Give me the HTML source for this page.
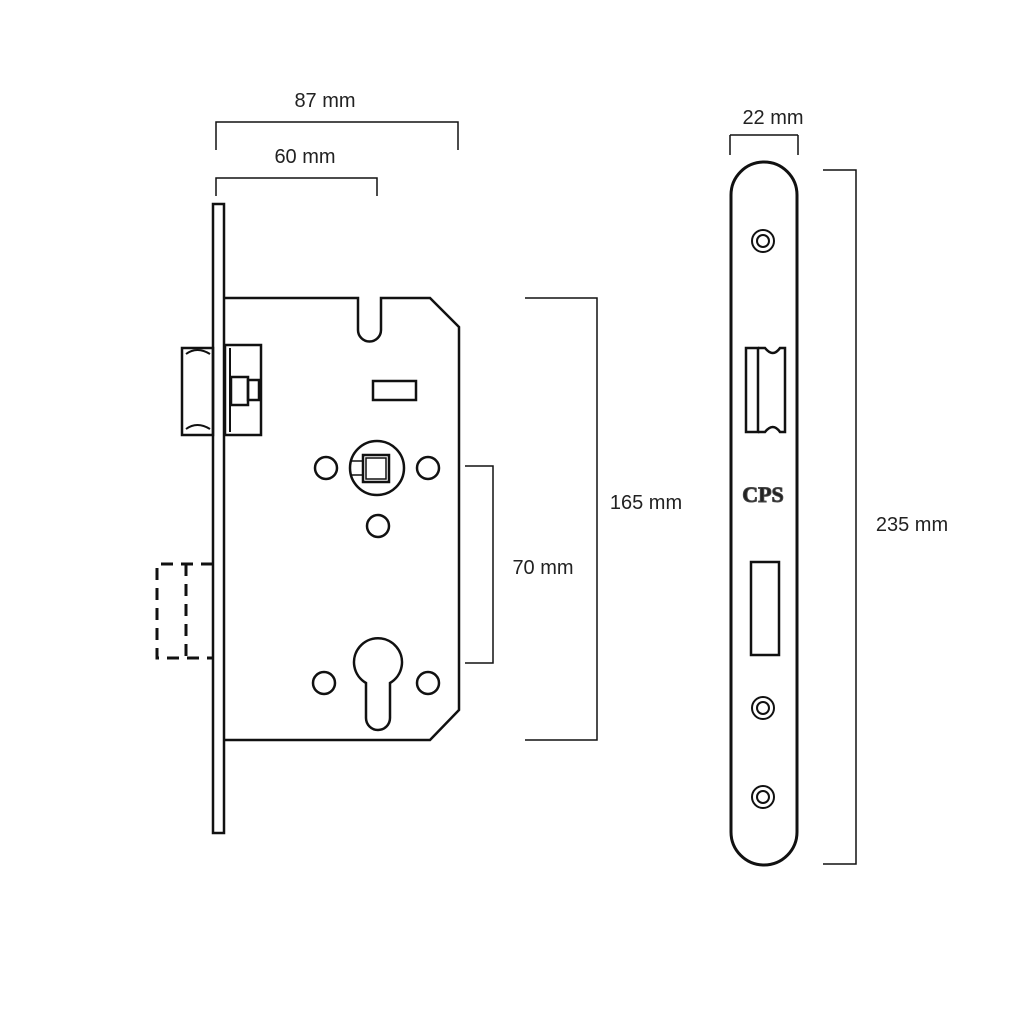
<!DOCTYPE html>
<html><head><style>body{margin:0;background:#fff}svg{display:block}text{font-family:"Liberation Sans",sans-serif;font-size:20px;fill:#222}</style></head><body>
<svg width="1024" height="1024" viewBox="0 0 1024 1024" fill="none" stroke="#111" stroke-width="2.5">
<!-- dimensions left -->
<path d="M216 150V122H458V150" stroke-width="1.5"/>
<text x="325" y="107" text-anchor="middle" stroke="none">87 mm</text>
<path d="M216 196V178H377V196" stroke-width="1.5"/>
<text x="305" y="163" text-anchor="middle" stroke="none">60 mm</text>
<path d="M525 298H597V740H525" stroke-width="1.5"/>
<text x="646" y="509" text-anchor="middle" stroke="none">165 mm</text>
<path d="M465 466H493V663H465" stroke-width="1.5"/>
<text x="543" y="574" text-anchor="middle" stroke="none">70 mm</text>
<!-- faceplate -->
<rect x="213" y="204" width="11" height="629"/>
<!-- body -->
<path d="M225 298H358V330A11.5 11.5 0 0 0 381 330V298H430L459 327V710L430 740H225"/>
<!-- latch -->
<rect x="182" y="348" width="31" height="87"/>
<path d="M186 354Q197 346 210 354M186 429Q197 421 210 429" stroke-width="2"/>
<rect x="225" y="345" width="36" height="90"/>
<path d="M230 348V432" stroke-width="2"/>
<rect x="231" y="377" width="17" height="28"/>
<rect x="248" y="380" width="11" height="20"/>
<rect x="373" y="381" width="43" height="19"/>
<!-- follower -->
<circle cx="377" cy="468" r="27"/>
<rect x="363" y="455" width="26" height="27"/>
<rect x="366" y="458" width="20" height="21" stroke-width="1.5"/>
<path d="M351 461H363M351 475H363" stroke-width="1.5"/>
<circle cx="326" cy="468" r="11"/>
<circle cx="428" cy="468" r="11"/>
<circle cx="378" cy="526" r="11"/>
<path d="M366 683A24 24 0 1 1 390 683V718A12 12 0 0 1 366 718Z"/>
<circle cx="324" cy="683" r="11"/>
<circle cx="428" cy="683" r="11"/>
<!-- dashed deadbolt -->
<path d="M213 564H157V658H213M186 564V658" stroke-dasharray="12 8" stroke-width="3"/>
<!-- right plate -->
<path d="M730 135V155M798 135V155M730 135H798" stroke-width="1.5"/>
<text x="773" y="124" text-anchor="middle" stroke="none">22 mm</text>
<path d="M823 170H856V864H823" stroke-width="1.5"/>
<text x="912" y="531" text-anchor="middle" stroke="none">235 mm</text>
<path d="M731 195A33 33 0 0 1 797 195V832A33 33 0 0 1 731 832Z" stroke-width="3"/>
<circle cx="763" cy="241" r="11" stroke-width="2"/><circle cx="763" cy="241" r="6" stroke-width="2"/>
<path d="M746 348H758V432H746Z"/>
<path d="M758 348H765Q773 358 780 348H785V432H780Q773 422 765 432H758"/>
<text x="763" y="502" text-anchor="middle" stroke="#444" stroke-width="1" fill="#fff" style="font-weight:bold;font-size:22px;font-family:'Liberation Serif',serif">CPS</text>
<rect x="751" y="562" width="28" height="93"/>
<circle cx="763" cy="708" r="11" stroke-width="2"/><circle cx="763" cy="708" r="6" stroke-width="2"/>
<circle cx="763" cy="797" r="11" stroke-width="2"/><circle cx="763" cy="797" r="6" stroke-width="2"/>
</svg>
</body></html>
